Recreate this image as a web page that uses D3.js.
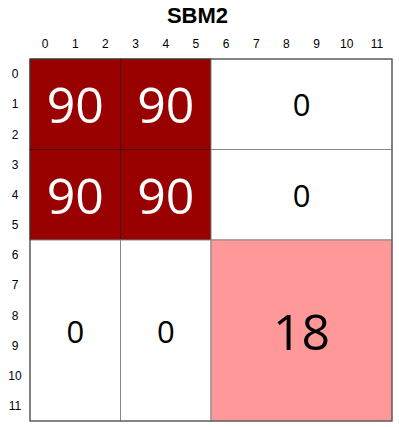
<!DOCTYPE html>
<html>
<head>
<meta charset="utf-8">
<script src="https://cdn.jsdelivr.net/npm/d3@7.9.0/dist/d3.min.js"></script>
<style>
  body { margin: 0; background: #fff; }
  svg text { font-family: "Liberation Sans", Arial, sans-serif; }
</style>
</head>
<body>
<svg id="chart" width="399" height="427"></svg>
<script>
// 12 nodes, grouped into 3 communities
const nodes = d3.range(12);
const groups = [[0, 3], [3, 6], [6, 12]];
// block values (row group x column group)
const blockValues = [
  [90, 90, 0],
  [90, 90, 0],
  [0, 0, 18],
];
const title = 'SBM2';

const margin = { top: 59, left: 30, right: 7, bottom: 6 };
const size = 362;
const width = 399;

const svg = d3.select('#chart');
const g = svg.append('g').attr('transform', `translate(${margin.left},${margin.top})`);

const x = d3.scaleBand().domain(nodes).range([0, size]);
const y = d3.scaleBand().domain(nodes).range([0, size]);

const color = d3.scaleLinear()
  .domain([0, 18, 90])
  .range(['#ffffff', '#ff9999', '#990000']);

const blocks = [];
groups.forEach((rg, i) => {
  groups.forEach((cg, j) => {
    blocks.push({ r0: rg[0], r1: rg[1], c0: cg[0], c1: cg[1], value: blockValues[i][j] });
  });
});

const cell = g.selectAll('g.block')
  .data(blocks)
  .join('g')
  .attr('class', 'block');

cell.append('rect')
  .attr('x', (d) => x(d.c0))
  .attr('y', (d) => y(d.r0))
  .attr('width', (d) => x(d.c1 - 1) + x.bandwidth() - x(d.c0))
  .attr('height', (d) => y(d.r1 - 1) + y.bandwidth() - y(d.r0))
  .attr('fill', (d) => color(d.value))
  .attr('stroke', (d) => (d.value > 50 ? '#4a0000' : '#888'))
  .attr('stroke-width', 1);

cell.append('text')
  .attr('x', (d) => (x(d.c0) + x(d.c1 - 1) + x.bandwidth()) / 2)
  .attr('y', (d) => (y(d.r0) + y(d.r1 - 1) + y.bandwidth()) / 2)
  .attr('text-anchor', 'middle')
  .attr('dominant-baseline', 'central')
  .style('font-family', '"Open Sans", sans-serif')
  .style('font-size', (d) => (d.value === 0 ? '31px' : '50px'))
  .attr('fill', (d) => (d.value > 50 ? '#fff' : '#000'))
  .text((d) => d.value);

// outer frame
g.append('rect')
  .attr('width', size)
  .attr('height', size)
  .attr('fill', 'none')
  .attr('stroke', '#444')
  .attr('stroke-width', 1);

// column labels
g.selectAll('text.col')
  .data(nodes)
  .join('text')
  .attr('class', 'col')
  .attr('x', (d) => x(d) + x.bandwidth() / 2)
  .attr('y', -11)
  .attr('text-anchor', 'middle')
  .style('font-size', '12px')
  .text((d) => d);

// row labels
g.selectAll('text.row')
  .data(nodes)
  .join('text')
  .attr('class', 'row')
  .attr('x', -15)
  .attr('y', (d) => y(d) + y.bandwidth() / 2)
  .attr('dy', '0.35em')
  .attr('text-anchor', 'middle')
  .style('font-size', '12px')
  .text((d) => d);

svg.append('text')
  .attr('x', width / 2 - 2)
  .attr('y', 23)
  .attr('text-anchor', 'middle')
  .style('font-size', '22px')
  .style('font-weight', 'bold')
  .text(title);
</script>
</body>
</html>
